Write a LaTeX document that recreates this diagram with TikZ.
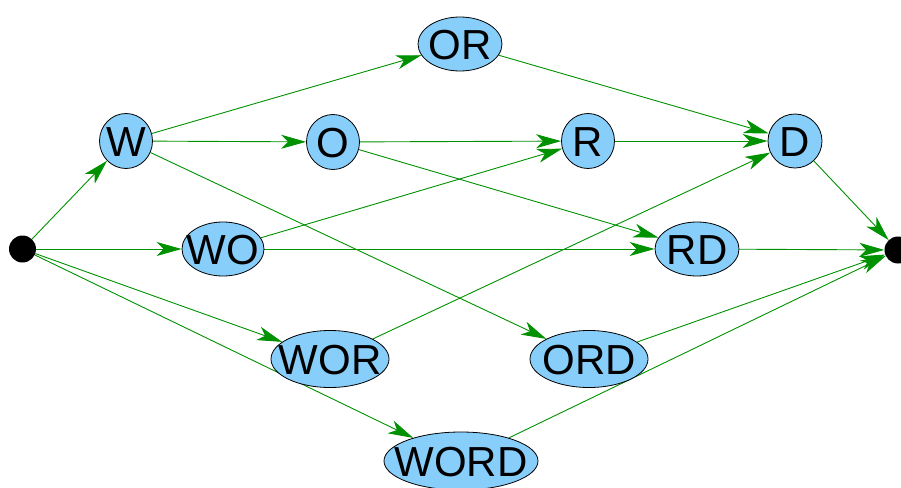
\documentclass[tikz,border=0pt]{standalone}
\usepackage{fontspec}
\setmainfont{Liberation Sans}
\usetikzlibrary{shapes.geometric,arrows.meta,backgrounds}
\definecolor{edgegreen}{RGB}{0,145,0}
\definecolor{nodeblue}{RGB}{135,206,250}
\newcommand{\lbl}[1]{\makebox[0pt]{\raisebox{-0.358em}[0pt][0pt]{#1}}}
\tikzset{
  part/.style={ellipse, draw=black, line width=0.8pt, fill=nodeblue,
    inner sep=0pt, font=\fontsize{42}{48}\selectfont},
  endpt/.style={circle, fill=black, inner sep=0pt, minimum size=27pt},
  link/.style={draw=edgegreen, line width=0.9pt,
    -{Stealth[length=25pt,width=14pt,inset=7pt]}}
}
\begin{document}
\begin{tikzpicture}[x=1pt,y=-1pt]
\useasboundingbox (0,0) rectangle (901,487);
% endpoints
\node[endpt] (s) at (22.5,249) {};
\node[endpt] (t) at (898,250) {};
% pieces of the word
\node[part, minimum width=53pt, minimum height=55pt] (W)   at (126,141) {\lbl{W}};
\node[part, minimum width=53pt, minimum height=55pt] (O)   at (333,142) {\lbl{O}};
\node[part, minimum width=53pt, minimum height=55pt] (R)   at (588,141) {\lbl{R}};
\node[part, minimum width=54pt, minimum height=54pt] (D)   at (795,141) {\lbl{D}};
\node[part, minimum width=84pt, minimum height=54pt] (OR)  at (460,44)  {\lbl{OR}};
\node[part, minimum width=82pt, minimum height=54pt] (WO)  at (223,249) {\lbl{WO}};
\node[part, minimum width=84pt, minimum height=54pt] (RD)  at (697,249) {\lbl{RD}};
\node[part, minimum width=118pt, minimum height=57pt] (WOR) at (330,359) {\lbl{WOR}};
\node[part, minimum width=118pt, minimum height=57pt] (ORD) at (589,359) {\lbl{ORD}};
\node[part, minimum width=154pt, minimum height=58pt] (WORD) at (461,461) {\lbl{WORD}};
% connections, kept behind the nodes
\begin{scope}[on background layer]
\path[link] (s) -- (W);
\path[link] (s) -- (WO);
\path[link] (s) -- (WOR);
\path[link] (s) -- (WORD);
\path[link] (W) -- (OR);
\path[link] (W) -- (O);
\path[link] (W) -- (ORD);
\path[link] (O) -- (R);
\path[link] (O) -- (RD);
\path[link] (WO) -- (R);
\path[link] (WO) -- (RD);
\path[link] (WOR) -- (D);
\path[link] (OR) -- (D);
\path[link] (R) -- (D);
\path[link] (D) -- (t);
\path[link] (RD) -- (t);
\path[link] (ORD) -- (t);
\path[link] (WORD) -- (t);
\end{scope}
\end{tikzpicture}
\end{document}
